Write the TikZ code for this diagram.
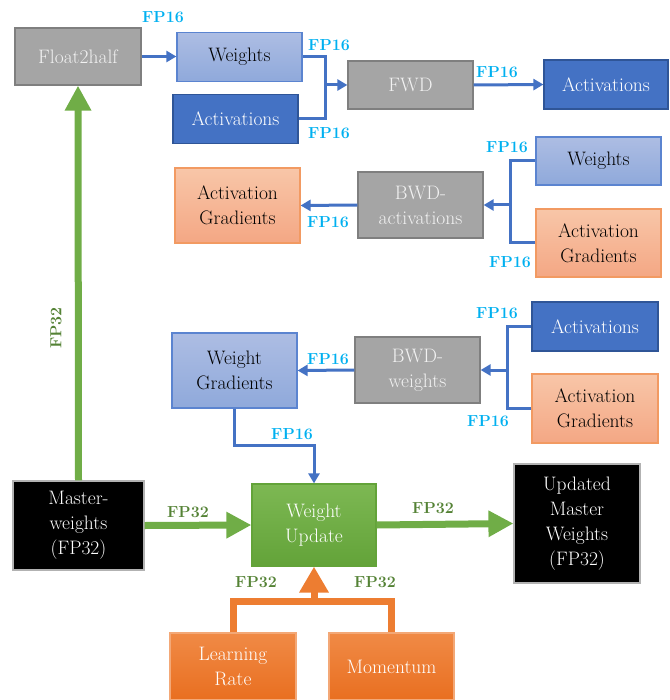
\documentclass[tikz,border=0pt]{standalone}
\usetikzlibrary{arrows.meta}
\definecolor{grayfill}{HTML}{A5A5A5}
\definecolor{grayline}{HTML}{7F7F7F}
\definecolor{ltbluetop}{HTML}{ADBDE3}
\definecolor{ltbluebot}{HTML}{8FA9DB}
\definecolor{ltblueline}{HTML}{5B84D0}
\definecolor{dkblue}{HTML}{4472C4}
\definecolor{dkblueline}{HTML}{2F5597}
\definecolor{salmontop}{HTML}{F8C6A8}
\definecolor{salmonbot}{HTML}{F4A784}
\definecolor{salmonline}{HTML}{F29A62}
\definecolor{greentop}{HTML}{7DB853}
\definecolor{greenbot}{HTML}{63A339}
\definecolor{orangetop}{HTML}{F08A46}
\definecolor{orangebot}{HTML}{E96F20}
\definecolor{orangeline}{HTML}{F3A877}
\definecolor{fpcyan}{HTML}{00B0F0}
\definecolor{fpgreen}{HTML}{548235}
\definecolor{arrgreen}{HTML}{70AD47}
\definecolor{arrorange}{HTML}{ED7D31}
\begin{document}
\begin{tikzpicture}[
      x=1pt, y=-1pt,
      box/.style={draw, line width=1.2pt, minimum width=125pt, minimum height=49pt,
                  inner sep=1pt, align=center, font=\fontsize{19.5}{25}\selectfont},
      grayop/.style={box, fill=grayfill, draw=grayline, text=white!95!black},
      wbox/.style={box, top color=ltbluetop, bottom color=ltbluebot, draw=ltblueline, text=black},
      abox/.style={box, fill=dkblue, draw=dkblueline, text=white},
      gbox/.style={box, top color=salmontop, bottom color=salmonbot, draw=salmonline, text=black},
      mbox/.style={box, fill=black, draw=gray!60, text=white},
      obox/.style={box, top color=orangetop, bottom color=orangebot, draw=orangeline, text=white},
      fp16/.style={font=\fontsize{16}{18}\selectfont\bfseries, text=fpcyan, inner sep=0pt},
      fp32/.style={font=\fontsize{16}{18}\selectfont\bfseries, text=fpgreen, inner sep=0pt},
      bline/.style={draw=dkblue, line width=3pt},
      barrow/.style={bline, -{Triangle[length=10pt, width=11pt]}},
      garrow/.style={draw=arrgreen, line width=7pt, -{Triangle[length=25pt, width=25pt]}},
      oline/.style={draw=arrorange, line width=7pt},
      oarrow/.style={oline, -{Triangle[length=26pt, width=28pt]}}
    ]
      \useasboundingbox (0,0) rectangle (669,700);

      % forward pass
      \node[grayop, minimum width=126pt, minimum height=57pt] (f2h) at (78,56.5) {Float2half};
      \node[wbox] (wtop) at (239.5,57) {Weights};
      \node[abox] (atop) at (235.5,119) {Activations};
      \node[grayop, minimum height=48pt] (fwd) at (410.5,85) {FWD};
      \node[abox, minimum width=124pt] (aout) at (606,84.5) {Activations};

      % backward pass, activations
      \node[wbox, minimum height=48pt] (wbwd) at (598.5,161) {Weights};
      \node[gbox, minimum height=68pt] (agr1) at (598.5,243) {Activation\\Gradients};
      \node[grayop, minimum height=66pt] (bwda) at (420.5,205) {BWD-\\activations};
      \node[gbox, minimum height=75pt] (agl) at (237.5,205.5) {Activation\\Gradients};

      % backward pass, weights
      \node[abox, minimum width=126pt] (arw) at (595,326.5) {Activations};
      \node[gbox, minimum width=126pt, minimum height=69pt] (agr2) at (595,408.5) {Activation\\Gradients};
      \node[grayop, minimum height=66pt] (bwdw) at (417.5,370) {BWD-\\weights};
      \node[wbox, minimum height=75pt] (wg) at (234.5,370.5) {Weight\\Gradients};

      % update
      \node[mbox, minimum width=131pt, minimum height=89pt] (mw) at (78.5,525.5) {Master-\\weights\\(FP32)};
      \node[box, top color=greentop, bottom color=greenbot, draw=greenbot, text=white,
            minimum width=124pt, minimum height=82pt] (wu) at (314,525) {Weight\\Update};
      \node[mbox, minimum width=126pt, minimum height=119pt] (umw) at (577,523.5) {Updated\\Master\\Weights\\(FP32)};
      \node[obox, minimum width=126pt, minimum height=67pt] (lr) at (233,666.5) {Learning\\Rate};
      \node[obox, minimum width=125pt, minimum height=67pt] (mom) at (391.5,666.5) {Momentum};

      % blue connectors
      \coordinate (jf) at (325,85);
      \coordinate (jb1) at (510,205);
      \coordinate (jb2) at (507,370);
      \draw[barrow] (f2h.east) -- (f2h.east -| wtop.west);
      \draw[bline] (wtop.east) -| (jf);
      \draw[bline] (atop.east) -| (jf);
      \draw[barrow] (jf) -- (fwd.west);
      \draw[barrow] (fwd.east) -- (aout.west);
      \draw[bline] (wbwd.west) -| (jb1);
      \draw[bline] (agr1.west) -| (jb1);
      \draw[barrow] (jb1) -- (bwda.east);
      \draw[barrow] (bwda.west) -- (agl.east);
      \draw[bline] (arw.west) -| (jb2);
      \draw[bline] (agr2.west) -| (jb2);
      \draw[barrow] (jb2) -- (bwdw.east);
      \draw[barrow] (bwdw.west) -- (wg.east);
      \draw[barrow] (wg.south) -- ++(0,37) -| (wu.north);

      % green and orange arrows
      \draw[garrow] (mw.north) -- (f2h.south);
      \draw[garrow] (mw.east) -- (wu.west);
      \draw[garrow] (wu.east) -- (umw.west);
      \coordinate (jo) at (314,601);
      \draw[oline] (lr.north) |- (jo) -| (mom.north);
      \draw[oarrow] (jo) -- (wu.south);

      % precision labels
      \node[fp16] (l1) at (163,17) {FP16};
      \node[fp16] (l2) at (329,45) {FP16};
      \node[fp16] (l3) at (329,133) {FP16};
      \node[fp16] (l4) at (497,72) {FP16};
      \node[fp16] (l5) at (507,147) {FP16};
      \node[fp16] (l6) at (328,222) {FP16};
      \node[fp16] (l7) at (510,262) {FP16};
      \node[fp16] (l8) at (497,313) {FP16};
      \node[fp16] (l9) at (328,359) {FP16};
      \node[fp16] (l10) at (488,421) {FP16};
      \node[fp16] (l11) at (292,434) {FP16};
      \node[fp32, rotate=90] (m1) at (56,328) {FP32};
      \node[fp32] (m2) at (188,512) {FP32};
      \node[fp32] (m3) at (433,508) {FP32};
      \node[fp32] (m4) at (256,582) {FP32};
      \node[fp32] (m5) at (375,582) {FP32};
    \end{tikzpicture}
\end{document}
